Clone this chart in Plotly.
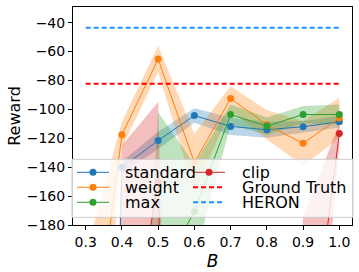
import plotly.graph_objects as go

# ---- data ----
B = [0.3, 0.4, 0.5, 0.6, 0.7, 0.8, 0.9, 1.0]
standard_mean = [-1100, -140.3, -121.5, -104.3, -111.8, -114.1, -112.0, -108.6]
standard_std = [100, 4, 6, 5, 6, 5.5, 4, 4]
weight_mean = [-310, -117.5, -65.2, -136.8, -92.5, -110.7, -123.5, -105.9]
weight_std = [110, 9, 9, 20, 8.5, 10, 15.5, 14]
max_mean = [-1000, -700, -216, -170.8, -103.6, -111.6, -103.6, -103.6]
max_std = [100, 180, 114, 33, 7, 6, 6, 7]
clip_mean = [-1000, -300, -150, -1200, -900, -800, -314, -116.7]
clip_std = [100, 175, 55, 100, 200, 200, 139, 7]
ground_truth = -82.3
heron = -43.5

x_ticks = [0.3, 0.4, 0.5, 0.6, 0.7, 0.8, 0.9, 1.0]
y_ticks = [-180, -160, -140, -120, -100, -80, -60, -40]

series = [
    ("standard", standard_mean, standard_std, "#1f77b4", "rgba(31,119,180,0.3)"),
    ("weight", weight_mean, weight_std, "#ff7f0e", "rgba(255,127,14,0.3)"),
    ("max", max_mean, max_std, "#2ca02c", "rgba(44,160,44,0.3)"),
    ("clip", clip_mean, clip_std, "#d62728", "rgba(214,39,40,0.3)"),
]
GT_COLOR = "#ff0000"
HERON_COLOR = "#1e90ff"

W, H = 359, 272
L, R, T, Bm = 73, 7, 7, 47
PW, PH = W - L - R, H - T - Bm


def px(xp):
    return (xp - L) / PW


def py(yp):
    return (H - Bm - yp) / PH


fig = go.Figure()

# shaded bands (mean +- std)
for name, m, s, col, fcol in series:
    upper = [a + b for a, b in zip(m, s)]
    lower = [a - b for a, b in zip(m, s)]
    fig.add_trace(go.Scatter(
        x=B + B[::-1], y=upper + lower[::-1], fill="toself", fillcolor=fcol,
        line=dict(width=0), mode="lines", showlegend=False, hoverinfo="skip"))

# mean lines
for name, m, s, col, fcol in series:
    fig.add_trace(go.Scatter(
        x=B, y=m, mode="lines+markers", name=name, showlegend=False,
        line=dict(color=col, width=1), marker=dict(color=col, size=7)))

# reference lines
fig.add_trace(go.Scatter(
    x=[B[0], B[-1]], y=[ground_truth, ground_truth], mode="lines", name="Ground Truth",
    showlegend=False, line=dict(color=GT_COLOR, width=2, dash="5px,3px")))
fig.add_trace(go.Scatter(
    x=[B[0], B[-1]], y=[heron, heron], mode="lines", name="HERON",
    showlegend=False, line=dict(color=HERON_COLOR, width=2, dash="5px,3px")))

font = "DejaVu Sans"

# ---- legend (drawn in paper space, two columns) ----
shapes = []
annotations = []
shapes.append(dict(type="rect", xref="paper", yref="paper",
                   x0=px(72), x1=px(353), y0=py(217.3), y1=py(159.3),
                   fillcolor="rgba(255,255,255,0.8)", line=dict(color="#cccccc", width=1),
                   layer="above"))
legend_items = [
    ("standard", "#1f77b4", "solid", True, 0, 0),
    ("weight", "#ff7f0e", "solid", True, 0, 1),
    ("max", "#2ca02c", "solid", True, 0, 2),
    ("clip", "#d62728", "solid", True, 1, 0),
    ("Ground Truth", GT_COLOR, "dash", False, 1, 1),
    ("HERON", HERON_COLOR, "dash", False, 1, 2),
]
col_x = [(77, 109, 123), (193, 225, 240)]
row_y = [172.3, 187.3, 202.3]
for label, col, style, marker, c, r in legend_items:
    x0, x1, xt = col_x[c]
    yc = row_y[r]
    shapes.append(dict(type="line", xref="paper", yref="paper",
                       x0=px(x0), x1=px(x1), y0=py(yc), y1=py(yc), layer="above",
                       line=dict(color=col, width=2 if style == "dash" else 1,
                                 dash="5px,3px" if style == "dash" else "solid")))
    if marker:
        xm = (x0 + x1) / 2
        shapes.append(dict(type="circle", xref="paper", yref="paper",
                           x0=px(xm - 3.5), x1=px(xm + 3.5), y0=py(yc + 3.5), y1=py(yc - 3.5),
                           fillcolor=col, line=dict(color=col, width=0), layer="above"))
    annotations.append(dict(text=label, xref="paper", yref="paper", x=px(xt), y=py(yc + 0.5),
                            xanchor="left", yanchor="middle", showarrow=False,
                            font=dict(family=font, size=16, color="black")))

fig.update_layout(
    width=W, height=H,
    margin=dict(l=L, r=R, t=T, b=Bm, autoexpand=False),
    paper_bgcolor="white", plot_bgcolor="white",
    font=dict(family=font, size=14, color="black"),
    showlegend=False,
    shapes=shapes, annotations=annotations,
    xaxis=dict(
        range=[0.265, 1.035], tickvals=x_ticks, tickformat=".1f", automargin=False,
        showgrid=False, zeroline=False, showline=True, mirror=True,
        linecolor="black", linewidth=1, ticks="outside", ticklen=4, tickcolor="black",
        title=dict(text="<i>B</i>", font=dict(family=font, size=17), standoff=6),
    ),
    yaxis=dict(
        range=[-180, -29.2], tickvals=y_ticks, automargin=False,
        showgrid=False, zeroline=False, showline=True, mirror=True,
        linecolor="black", linewidth=1, ticks="outside", ticklen=4, tickcolor="black",
        title=dict(text="Reward", font=dict(family=font, size=16), standoff=2),
    ),
)

fig.write_html("out.html", config={"displayModeBar": False},
               post_script="document.body.style.margin='0';document.body.style.overflow='hidden';")
